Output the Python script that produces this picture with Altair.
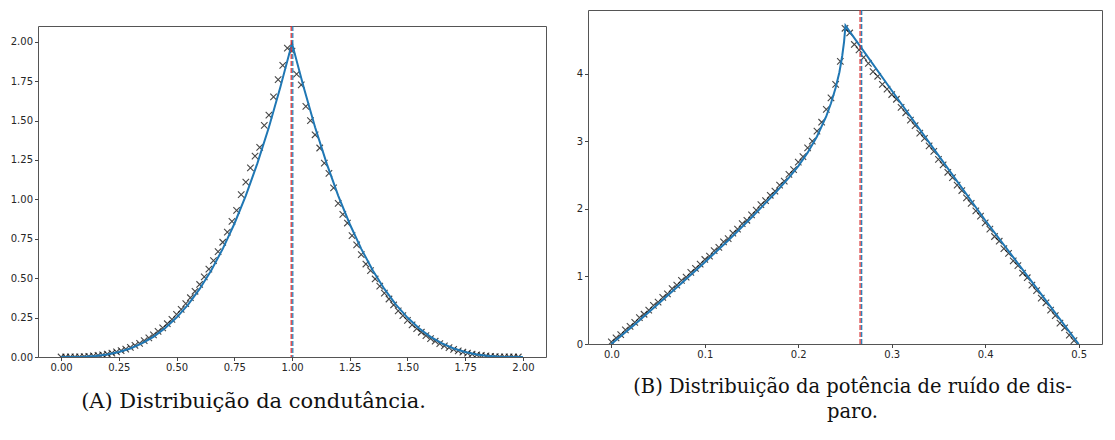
import altair as alt
import pandas as pd

# ---------------- Panel A: conductance distribution ----------------
a_line_x = [round(0.05 * i, 2) for i in range(41)]
a_line_y = [0.0, 0.0003, 0.002, 0.0068, 0.016, 0.0313, 0.054, 0.0858, 0.128, 0.1823,
            0.25, 0.3328, 0.432, 0.5493, 0.686, 0.8438, 1.024, 1.2283, 1.458, 1.7148,
            1.99, 1.7148, 1.458, 1.2283, 1.024, 0.8438, 0.686, 0.5493, 0.432, 0.3328,
            0.25, 0.1823, 0.128, 0.0858, 0.054, 0.0313, 0.016, 0.0068, 0.002, 0.0003, 0.0]

a_mark_x = [round(0.02 * i, 2) for i in range(100)]
a_mark_y = [0.0000, 0.0001, 0.0003, 0.0008, 0.0014, 0.0029, 0.0046, 0.0065, 0.0101, 0.0140,
            0.0190, 0.0250, 0.0320, 0.0400, 0.0500, 0.0610, 0.0735, 0.0870, 0.1035, 0.1210,
            0.1400, 0.1620, 0.1850, 0.2110, 0.2390, 0.2700, 0.3020, 0.3380, 0.3760, 0.4170,
            0.4600, 0.5080, 0.5580, 0.6120, 0.6680, 0.7280, 0.7920, 0.8600, 0.9300, 1.0300,
            1.1100, 1.2000, 1.2750, 1.3300, 1.4700, 1.5350, 1.6500, 1.7600, 1.8500, 1.9600,
            1.9400, 1.7950, 1.7260, 1.5900, 1.5000, 1.4100, 1.3260, 1.2300, 1.1650, 1.0730,
            0.9750, 0.9050, 0.8500, 0.7700, 0.7120, 0.6500, 0.5900, 0.5480, 0.4950, 0.4500,
            0.4050, 0.3680, 0.3300, 0.2930, 0.2620, 0.2320, 0.2040, 0.1800, 0.1570, 0.1360,
            0.1170, 0.1000, 0.0850, 0.0710, 0.0590, 0.0480, 0.0390, 0.0310, 0.0240, 0.0180,
            0.0135, 0.0097, 0.0067, 0.0043, 0.0027, 0.0015, 0.0007, 0.0003, 0.0001, 0.0000]
a_vline = [1.0]
a_xticks = [0.0, 0.25, 0.5, 0.75, 1.0, 1.25, 1.5, 1.75, 2.0]
a_yticks = [0.0, 0.25, 0.5, 0.75, 1.0, 1.25, 1.5, 1.75, 2.0]
a_caption = "(A) Distribuição da condutância."

# ---------------- Panel B: shot-noise power distribution ----------------
b_line_x = [0.0, 0.025, 0.05, 0.075, 0.1, 0.125, 0.15, 0.175, 0.19, 0.2, 0.21, 0.22,
            0.23, 0.235, 0.24, 0.244, 0.247, 0.249, 0.2505, 0.3, 0.35, 0.4, 0.45, 0.5]
b_line_y = [0.0, 0.29, 0.59, 0.90, 1.21, 1.53, 1.87, 2.23, 2.46, 2.63, 2.83, 3.07,
            3.37, 3.56, 3.79, 4.02, 4.26, 4.47, 4.71, 3.75, 2.79, 1.83, 0.92, 0.0]

b_mark_x = [round(0.005 * i, 3) for i in range(100)]
b_mark_y = [0.03, 0.09, 0.14, 0.21, 0.26, 0.32, 0.39, 0.44, 0.50, 0.57,
            0.62, 0.69, 0.74, 0.82, 0.87, 0.94, 0.99, 1.06, 1.12, 1.18,
            1.25, 1.30, 1.38, 1.43, 1.51, 1.56, 1.64, 1.70, 1.78, 1.83,
            1.91, 1.98, 2.06, 2.12, 2.20, 2.26, 2.35, 2.41, 2.51, 2.58,
            2.69, 2.77, 2.90, 3.00, 3.15, 3.28, 3.47, 3.64, 3.84, 4.18,
            4.67, 4.60, 4.43, 4.35, 4.24, 4.15, 4.03, 3.96, 3.84, 3.77,
            3.69, 3.62, 3.50, 3.42, 3.31, 3.23, 3.12, 3.04, 2.93, 2.85,
            2.73, 2.65, 2.54, 2.46, 2.35, 2.27, 2.16, 2.08, 1.97, 1.89,
            1.79, 1.70, 1.59, 1.52, 1.41, 1.34, 1.23, 1.16, 1.05, 0.98,
            0.87, 0.79, 0.68, 0.61, 0.50, 0.42, 0.31, 0.24, 0.13, 0.05]
b_vline = [0.267]
b_xticks = [0.0, 0.1, 0.2, 0.3, 0.4, 0.5]
b_yticks = [0, 1, 2, 3, 4]
b_caption = ["(B) Distribuição da potência de ruído de dis-", "paro."]

BLUE = "#1f77b4"
RED = "#d62728"
XSHAPE = "M-1,-1L1,1M1,-1L-1,1"


def panel(line_x, line_y, mark_x, mark_y, vline, xdom, ydom, xticks, yticks,
          xfmt, yfmt, caption, w, h, title_pad, title_x, title_size):
    line_df = pd.DataFrame({"x": line_x, "y": line_y})
    mark_df = pd.DataFrame({"x": mark_x, "y": mark_y})
    v_df = pd.DataFrame({"x": vline})

    xs = alt.Scale(domain=xdom, nice=False, zero=False)
    ys = alt.Scale(domain=ydom, nice=False, zero=False)
    xax = alt.Axis(values=xticks, format=xfmt, title=caption, titlePadding=title_pad,
                   titleLineHeight=25, titleX=title_x, titleAlign="center",
                   titleFontSize=title_size)
    yax = alt.Axis(values=yticks, format=yfmt, title=None)

    marks = alt.Chart(mark_df).mark_point(
        shape=XSHAPE, filled=False, stroke="black", strokeWidth=1.1,
        size=42, opacity=0.72, clip=True
    ).encode(x=alt.X("x:Q", scale=xs, axis=xax), y=alt.Y("y:Q", scale=ys, axis=yax))

    line = alt.Chart(line_df).mark_line(color=BLUE, strokeWidth=2, clip=True).encode(
        x=alt.X("x:Q", scale=xs), y=alt.Y("y:Q", scale=ys)
    )

    rule_b = alt.Chart(v_df).mark_rule(
        color=BLUE, strokeWidth=1.2, strokeDash=[5, 2], xOffset=0.8
    ).encode(x=alt.X("x:Q", scale=xs))
    rule_r = alt.Chart(v_df).mark_rule(
        color=RED, strokeWidth=1.2, strokeDash=[5, 2], xOffset=-0.8
    ).encode(x=alt.X("x:Q", scale=xs))

    return alt.layer(marks, line, rule_b, rule_r).properties(width=w, height=h)


left = panel(a_line_x, a_line_y, a_mark_x, a_mark_y, a_vline, [-0.1, 2.1], [0, 2.1],
             a_xticks, a_yticks, ".2f", ".2f", a_caption, 508, 331, 18, 215, 21)
right = panel(b_line_x, b_line_y, b_mark_x, b_mark_y, b_vline, [-0.025, 0.525], [0, 4.94],
              b_xticks, b_yticks, ".1f", "d", b_caption, 514, 334, 18, 264, 19.5)

# invisible spacer that pushes panel A down relative to panel B
spacer = alt.Chart(pd.DataFrame({"x": [0]})).mark_point(opacity=0).encode(
    x=alt.X("x:Q", axis=None), y=alt.value(0)
).properties(width=508, height=10, view=alt.ViewBackground(strokeOpacity=0))

left_col = alt.vconcat(spacer, left, spacing=4)

chart = alt.hconcat(left_col, right, spacing=28).properties(
    padding={"left": 9, "top": 7, "right": 5, "bottom": 5}
).configure_view(
    stroke="#555555", strokeWidth=1
).configure_axis(
    labelFont="DejaVu Sans", labelFontSize=10, labelColor="#262626",
    tickColor="#444444", tickSize=3.5, tickWidth=1, domain=False, grid=False,
    labelPadding=2,
    titleFont="DejaVu Serif", titleFontSize=21, titleFontWeight="normal",
    titleColor="#111111"
)

chart.save("out.html", embed_options={"renderer": "svg", "actions": False})
